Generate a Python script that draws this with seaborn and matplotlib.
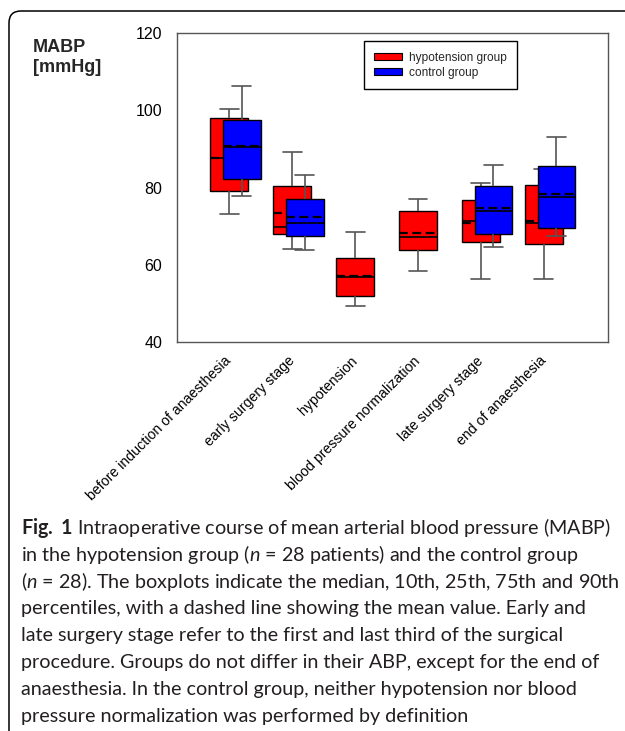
import numpy as np
import pandas as pd
import matplotlib
matplotlib.use("Agg")
import matplotlib.pyplot as plt
from matplotlib.patches import Patch, FancyBboxPatch
from matplotlib.transforms import IdentityTransform
import seaborn as sns

# ---------------- data ----------------
categories = ["before induction of anaesthesia", "early surgery stage", "hypotension",
              "blood pressure normalization", "late surgery stage", "end of anaesthesia"]
groups = ["hypotension group", "control group"]

# hypotension group: 10th, 25th, median, 75th, 90th percentile, mean
hypo_p10 = [73.1, 64.2, 49.2, 58.5, 56.2, 56.2]
hypo_p25 = [79.1, 68.0, 51.8, 63.8, 66.0, 65.4]
hypo_med = [87.7, 69.7, 56.9, 67.3, 71.3, 70.8]
hypo_p75 = [97.9, 80.4, 61.8, 73.8, 76.7, 80.6]
hypo_p90 = [100.3, 89.2, 68.6, 76.9, 81.2, 84.9]
hypo_mean = [87.7, 73.5, 57.0, 68.2, 70.8, 71.3]

# control group (no hypotension / normalization phase)
ctrl_p10 = [77.8, 63.8, None, None, 64.6, 67.5]
ctrl_p25 = [82.3, 67.4, None, None, 68.0, 69.5]
ctrl_med = [90.5, 70.8, None, None, 73.8, 77.6]
ctrl_p75 = [97.5, 77.1, None, None, 80.3, 85.5]
ctrl_p90 = [106.3, 83.3, None, None, 85.7, 93.1]
ctrl_mean = [90.7, 72.4, None, None, 74.6, 78.3]

yticks = [40, 60, 80, 100, 120]

caption_lines = [
    r"$\mathbf{Fig.\ 1}$ Intraoperative course of mean arterial blood pressure (MABP)",
    r"in the hypotension group ($n$ = 28 patients) and the control group",
    r"($n$ = 28). The boxplots indicate the median, 10th, 25th, 75th and 90th",
    "percentiles, with a dashed line showing the mean value. Early and",
    "late surgery stage refer to the first and last third of the surgical",
    "procedure. Groups do not differ in their ABP, except for the end of",
    "anaesthesia. In the control group, neither hypotension nor blood",
    "pressure normalization was performed by definition",
]

# ---------------- style ----------------
sns.set_theme(style="white")
plt.rcParams["font.family"] = ["Liberation Sans", "DejaVu Sans"]
plt.rcParams["mathtext.fontset"] = "custom"
plt.rcParams["mathtext.rm"] = "Lato"
plt.rcParams["mathtext.it"] = "Lato:italic"
plt.rcParams["mathtext.bf"] = "Lato:bold"

RED = "#FF0000"
BLUE = "#0000FF"
SPINE = "#555555"

W, H = 625, 731
fig = plt.figure(figsize=(W / 100, H / 100), dpi=100)
fig.patch.set_facecolor("white")

ax = fig.add_axes([177 / W, 1 - 342 / H, 431 / W, 309 / H])

offset = 0.2  # control boxes shifted right of hypotension boxes


def long_frame(p10, p25, med, p75, p90, shift):
    rows = []
    for i in range(len(categories)):
        if med[i] is None:
            continue
        for v in (p10[i], p25[i], med[i], p75[i], p90[i]):
            rows.append({"pos": i + shift, "value": v})
    return pd.DataFrame(rows)


df_hypo = long_frame(hypo_p10, hypo_p25, hypo_med, hypo_p75, hypo_p90, 0.0)
df_ctrl = long_frame(ctrl_p10, ctrl_p25, ctrl_med, ctrl_p75, ctrl_p90, offset)

common = dict(x="pos", y="value", native_scale=True, width=0.6, saturation=1,
              whis=(0, 100), linewidth=1.0, linecolor="black",
              whiskerprops=dict(color=SPINE, linewidth=1.2),
              capprops=dict(color=SPINE, linewidth=1.2),
              medianprops=dict(color="black", linewidth=1.2),
              showfliers=False, ax=ax)

# hypotension group
sns.boxplot(data=df_hypo, color=RED, zorder=2, **common)
hx = np.array([i for i in range(len(categories)) if hypo_mean[i] is not None], float)
hm = [m for m in hypo_mean if m is not None]
ax.hlines(hm, hx - 0.3, hx + 0.3, colors="black", linewidth=1.6,
          linestyles=(0, (4, 2)), zorder=2.2)

# control group
sns.boxplot(data=df_ctrl, color=BLUE, zorder=3, **common)
cx = np.array([i + offset for i in range(len(categories)) if ctrl_mean[i] is not None], float)
cm = [m for m in ctrl_mean if m is not None]
ax.hlines(cm, cx - 0.3, cx + 0.3, colors="black", linewidth=1.6,
          linestyles=(0, (4, 2)), zorder=3.2)

# axes
ax.set_xlim(-0.83, 6.02)
ax.set_ylim(40, 120)
ax.set_yticks(yticks)
ax.set_yticklabels([str(t) for t in yticks], fontsize=11.5)
ax.set_xticks(range(len(categories)))
ax.set_xticklabels(categories, rotation=45, ha="right", va="center",
                   rotation_mode="anchor", fontsize=10.2)
ax.set_xlabel("")
ax.set_ylabel("MABP\n[mmHg]", rotation=0, ha="left", va="top",
              fontsize=13, fontweight="bold", linespacing=1.25)
ax.yaxis.set_label_coords((33 - 177) / 431, (342 - 39) / 309)
for s in ax.spines.values():
    s.set_visible(True)
    s.set_color(SPINE)
    s.set_linewidth(1.0)
ax.tick_params(axis="both", direction="out", length=4, width=1, color=SPINE,
               labelcolor="black")
ax.tick_params(axis="y", pad=6.5)
ax.tick_params(axis="x", pad=8)
ax.set_xticks([6.02], minor=True)
ax.tick_params(axis="x", which="minor", direction="out", length=4, width=1, color=SPINE)
ax.grid(False)
ax.set_facecolor("white")

# legend
handles = [Patch(facecolor=RED, edgecolor="black", linewidth=0.8),
           Patch(facecolor=BLUE, edgecolor="black", linewidth=0.8)]
leg = ax.legend(handles, groups, loc="upper left",
                bbox_to_anchor=(364 / W, 1 - 41.5 / H), bbox_transform=fig.transFigure,
                frameon=True, fancybox=False, edgecolor="black", framealpha=1,
                fontsize=8.6, handlelength=2.35, handleheight=0.5, handletextpad=0.6,
                labelspacing=0.25, borderpad=0.85, borderaxespad=0)
leg.get_frame().set_linewidth(1.0)

# caption
for k, line in enumerate(caption_lines):
    y = 534 + 26.8 * k
    fig.text(21 / W, 1 - y / H, line, ha="left", va="baseline",
             fontsize=14.2, family=["Lato", "DejaVu Sans"], color="#231f20")

# outer frame with rounded top-left corner (right/bottom run off the image)
frame = FancyBboxPatch((9, -60), 700, (H - 11) + 60,
                       boxstyle="round,pad=0,rounding_size=12",
                       transform=IdentityTransform(), fill=False,
                       edgecolor="black", linewidth=1.1)
fig.patches.append(frame)

fig.savefig("out.png", dpi=100, facecolor="white")
